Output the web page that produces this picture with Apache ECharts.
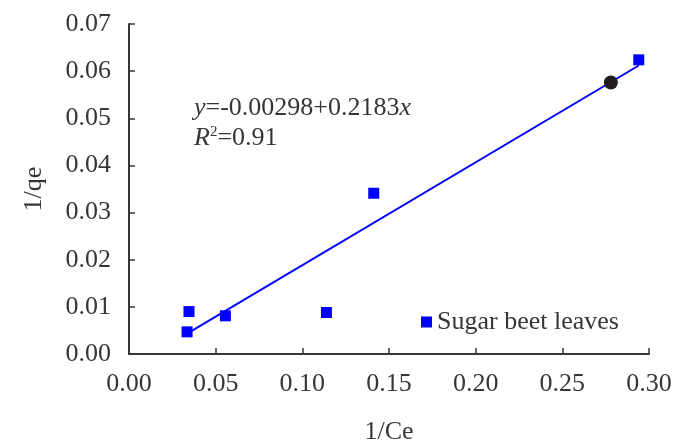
<!DOCTYPE html>
<html><head><meta charset="utf-8">
<script src="https://cdn.jsdelivr.net/npm/echarts@6/dist/echarts.min.js"></script>
<style>html,body{margin:0;padding:0;background:#fff}#c{width:676px;height:441px}</style>
</head><body><div id="c"></div>
<script>
// Data
var seriesName = 'Sugar beet leaves';
var pointsX = [0.0335, 0.0346, 0.0556, 0.1139, 0.1412, 0.2941];
var pointsY = [0.0047, 0.0090, 0.0081, 0.0088, 0.0341, 0.0624];
var fitX = [0.0335, 0.2941];
var fitY = [0.0043, 0.0612];
var markX = [0.278];
var markY = [0.0576];
var xTicks = ['0.00','0.05','0.10','0.15','0.20','0.25','0.30'];
var yTicks = ['0.00','0.01','0.02','0.03','0.04','0.05','0.06','0.07'];

function pairs(xs, ys){ return xs.map(function(x,i){ return [x, ys[i]]; }); }

var font = 'Liberation Serif, Times New Roman, serif';
var txt = '#3a3535';
var axisCol = '#3b3535';
var fs = 26;

var chart = echarts.init(document.getElementById('c'), null, {renderer:'canvas'});
chart.setOption({
  animation:false,
  backgroundColor:'#fff',
  grid:{left:129, right:27, top:24, bottom:87, containLabel:false, outerBoundsMode:'none'},
  xAxis:{
    type:'value', min:0, max:0.3, interval:0.05,
    name:'1/Ce', nameLocation:'middle', nameGap:65,
    nameTextStyle:{fontFamily:font, fontSize:fs, color:txt},
    axisLine:{show:true, lineStyle:{color:axisCol, width:2}},
    axisTick:{show:true, inside:true, length:6, lineStyle:{color:axisCol, width:1.5}},
    axisLabel:{fontFamily:font, fontSize:fs, color:txt, margin:17,
      formatter:function(v){ return xTicks[Math.round(v/0.05)]; }},
    splitLine:{show:false}
  },
  yAxis:{
    type:'value', min:0, max:0.07, interval:0.01,
    name:'1/qe', nameLocation:'middle', nameGap:82, nameRotate:90,
    nameTextStyle:{fontFamily:font, fontSize:fs, color:txt},
    axisLine:{show:true, lineStyle:{color:axisCol, width:2}},
    axisTick:{show:true, inside:true, length:6, lineStyle:{color:axisCol, width:1.5}},
    axisLabel:{fontFamily:font, fontSize:fs, color:txt, margin:18,
      formatter:function(v){ return yTicks[Math.round(v/0.01)]; }},
    splitLine:{show:false}
  },
  legend:{
    data:[seriesName], left:416, top:304, icon:'rect', itemWidth:11, itemHeight:11, itemGap:5,
    itemStyle:{opacity:1},
    textStyle:{fontFamily:font, fontSize:fs, color:txt}
  },
  graphic:[
    {type:'text', left:194, top:95, style:{
      text:'{i|y}{n|=-0.00298+0.2183}{i|x}',
      rich:{i:{fontFamily:font, fontSize:fs, fontStyle:'italic', fill:txt}, n:{fontFamily:font, fontSize:fs, fill:txt}}
    }},
    {type:'text', left:194, top:125, style:{
      text:'{i|R}{s|2}{n|=0.91}',
      rich:{i:{fontFamily:font, fontSize:fs, fontStyle:'italic', fill:txt},
            s:{fontFamily:font, fontSize:15, fill:txt, verticalAlign:'top'},
            n:{fontFamily:font, fontSize:fs, fill:txt}}
    }}
  ],
  series:[
    {name:'fit', type:'line', data:pairs(fitX, fitY), symbol:'none',
      lineStyle:{color:'#0000ff', width:2}, z:2, silent:true},
    {name:seriesName, type:'scatter', data:pairs(pointsX, pointsY), symbol:'rect', symbolSize:11,
      itemStyle:{color:'#0000ff', opacity:1}, z:3},
    {name:'mark', type:'scatter', data:pairs(markX, markY), symbol:'circle', symbolSize:14,
      itemStyle:{color:'#231f20', opacity:1}, z:4}
  ]
});
</script></body></html>
